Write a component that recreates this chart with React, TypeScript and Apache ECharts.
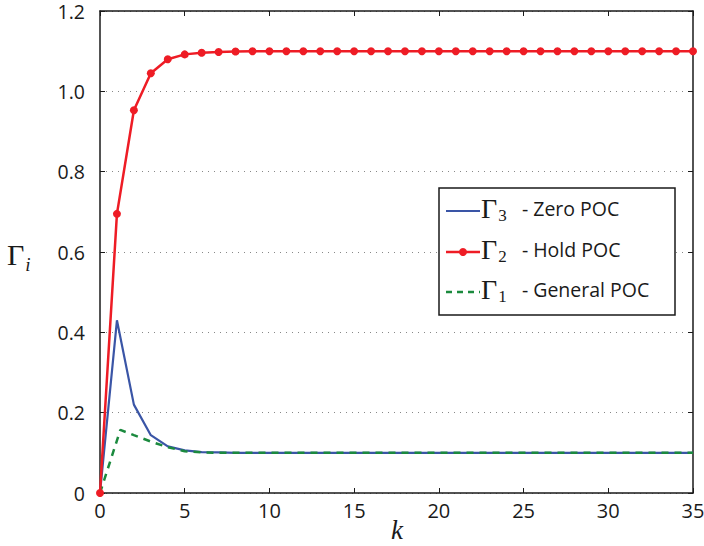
import React, { useEffect, useRef } from "react";
import * as echarts from "echarts";

const kValues = [0, 1, 2, 3, 4, 5, 6, 7, 8, 9, 10, 11, 12, 13, 14, 15, 16, 17, 18, 19, 20, 21, 22, 23, 24, 25, 26, 27, 28, 29, 30, 31, 32, 33, 34, 35];
const holdPOC = [0, 0.695, 0.953, 1.045, 1.08, 1.092, 1.096, 1.098, 1.099, 1.1, 1.1, 1.1, 1.1, 1.1, 1.1, 1.1, 1.1, 1.1, 1.1, 1.1, 1.1, 1.1, 1.1, 1.1, 1.1, 1.1, 1.1, 1.1, 1.1, 1.1, 1.1, 1.1, 1.1, 1.1, 1.1, 1.1];
const zeroPOC = [0, 0.43, 0.22, 0.144, 0.116, 0.106, 0.102, 0.101, 0.1, 0.1, 0.1, 0.1, 0.1, 0.1, 0.1, 0.1, 0.1, 0.1, 0.1, 0.1, 0.1, 0.1, 0.1, 0.1, 0.1, 0.1, 0.1, 0.1, 0.1, 0.1, 0.1, 0.1, 0.1, 0.1, 0.1, 0.1];
const generalK = [0, 1.2, 2, 3, 4, 5, 6, 7, 8, 10, 15, 20, 25, 30, 35];
const generalPOC = [0, 0.157, 0.144, 0.128, 0.114, 0.104, 0.101, 0.1, 0.1, 0.1, 0.1, 0.1, 0.1, 0.1, 0.1];

const legendNames = ["Zero POC", "Hold POC", "General POC"];
const legendSubs = ["3", "2", "1"];

const BLUE = "#3a55a6";
const RED = "#ee1c25";
const GREEN = "#1b8a3e";
const INK = "#1a1a1a";
const SANS = "'Open Sans', 'Noto Sans', sans-serif";
const SERIF = "'Liberation Serif', 'DejaVu Serif', serif";

export default function App() {
  const ref = useRef<HTMLDivElement>(null);
  useEffect(() => {
    if (!ref.current) return;
    const chart = echarts.init(ref.current, null, { renderer: "svg" });
    const zip = (xs: number[], ys: number[]) => xs.map((x, i) => [x, ys[i]]);
    const axisCommon = {
      type: "value" as const,
      axisLine: { show: true, onZero: false, lineStyle: { color: INK, width: 1.5 } },
      axisTick: { show: true, inside: true, length: 5, lineStyle: { color: INK, width: 1 } },
    };

    // Legend (drawn as graphic elements)
    const boxX = 439, boxY = 188, boxW = 236, boxH = 127;
    const rowY = [211, 252, 292];
    const lineX1 = 446, lineX2 = 480;
    const legendStyles = [
      { stroke: BLUE, lineWidth: 2, lineDash: null as any, dot: false },
      { stroke: RED, lineWidth: 2.5, lineDash: null as any, dot: true },
      { stroke: GREEN, lineWidth: 2.5, lineDash: [6, 5], dot: false },
    ];
    const legendGraphics: any[] = [
      {
        type: "rect",
        z: 100,
        shape: { x: boxX, y: boxY, width: boxW, height: boxH },
        style: { fill: "#ffffff", stroke: INK, lineWidth: 1.5 },
      },
    ];
    legendNames.forEach((name, i) => {
      const st = legendStyles[i];
      legendGraphics.push({
        type: "line",
        z: 101,
        shape: { x1: lineX1, y1: rowY[i], x2: lineX2, y2: rowY[i] },
        style: { stroke: st.stroke, lineWidth: st.lineWidth, lineDash: st.lineDash },
      });
      if (st.dot) {
        legendGraphics.push({
          type: "circle",
          z: 102,
          shape: { cx: (lineX1 + lineX2) / 2, cy: rowY[i], r: 4 },
          style: { fill: st.stroke },
        });
      }
      legendGraphics.push({
        type: "text",
        z: 102,
        x: 481,
        y: rowY[i] - 3,
        style: {
          text: `{g|Γ}{s|${legendSubs[i]}}{t|   - ${name}}`,
          verticalAlign: "middle",
          rich: {
            g: { fontFamily: SERIF, fontSize: 28, lineHeight: 30, fill: INK, verticalAlign: "middle" },
            s: { fontFamily: SERIF, fontSize: 17, lineHeight: 30, fill: INK, verticalAlign: "bottom", padding: [0, 0, -1, 1] },
            t: { fontFamily: SANS, fontSize: 19.5, lineHeight: 30, fill: INK, verticalAlign: "middle" },
          },
        },
      });
    });

    chart.setOption({
      animation: false,
      backgroundColor: "#ffffff",
      grid: { left: 100, right: 11, top: 11, bottom: 53, outerBoundsMode: "none", containLabel: false },
      xAxis: [
        {
          ...axisCommon,
          min: 0, max: 35, interval: 5,
          position: "bottom",
          axisLabel: { color: INK, fontFamily: SANS, fontSize: 20, lineHeight: 20, margin: 7 },
          splitLine: { show: false },
        },
        {
          ...axisCommon,
          min: 0, max: 35, interval: 5,
          position: "top",
          axisLabel: { show: false },
          splitLine: { show: false },
        },
      ],
      yAxis: [
        {
          ...axisCommon,
          min: 0, max: 1.2, interval: 0.2,
          position: "left",
          axisLabel: {
            color: INK, fontFamily: SANS, fontSize: 19.5, lineHeight: 18, margin: 15,
            formatter: (v: number) => (v === 0 ? "0" : v.toFixed(1)),
          },
          splitLine: { show: true, lineStyle: { type: [1, 5], color: "#888", width: 1 } },
        },
        {
          ...axisCommon,
          min: 0, max: 1.2, interval: 0.2,
          position: "right",
          axisLabel: { show: false },
          splitLine: { show: false },
        },
      ],
      graphic: [
        {
          type: "text",
          x: 7,
          y: 254,
          z: 100,
          style: {
            text: "{g|Γ}{s|i}",
            verticalAlign: "middle",
            rich: {
              g: { fontFamily: SERIF, fontSize: 30, lineHeight: 34, fill: INK, verticalAlign: "middle" },
              s: { fontFamily: SERIF, fontStyle: "italic", fontSize: 19, lineHeight: 34, fill: INK, verticalAlign: "bottom", padding: [0, 0, -3, 1] },
            },
          },
        },
        {
          type: "text",
          x: 397,
          y: 530,
          z: 100,
          style: {
            text: "k",
            align: "center",
            verticalAlign: "middle",
            fontFamily: SERIF,
            fontStyle: "italic",
            fontSize: 27,
            fill: INK,
          },
        },
        ...legendGraphics,
      ],
      series: [
        {
          name: "Zero POC",
          type: "line",
          data: zip(kValues, zeroPOC),
          symbol: "none",
          lineStyle: { color: BLUE, width: 2.2 },
          itemStyle: { color: BLUE },
          z: 2,
        },
        {
          name: "General POC",
          type: "line",
          data: zip(generalK, generalPOC),
          symbol: "none",
          lineStyle: { color: GREEN, width: 2.5, type: [7, 6] },
          itemStyle: { color: GREEN },
          z: 3,
        },
        {
          name: "Hold POC",
          type: "line",
          data: zip(kValues, holdPOC),
          symbol: "circle",
          symbolSize: 8,
          clip: false,
          lineStyle: { color: RED, width: 2.5 },
          itemStyle: { color: RED },
          z: 4,
        },
      ],
    });
    return () => chart.dispose();
  }, []);
  return <div ref={ref} style={{ position: "absolute", left: 0, top: 0, width: 704, height: 546 }} />;
}
